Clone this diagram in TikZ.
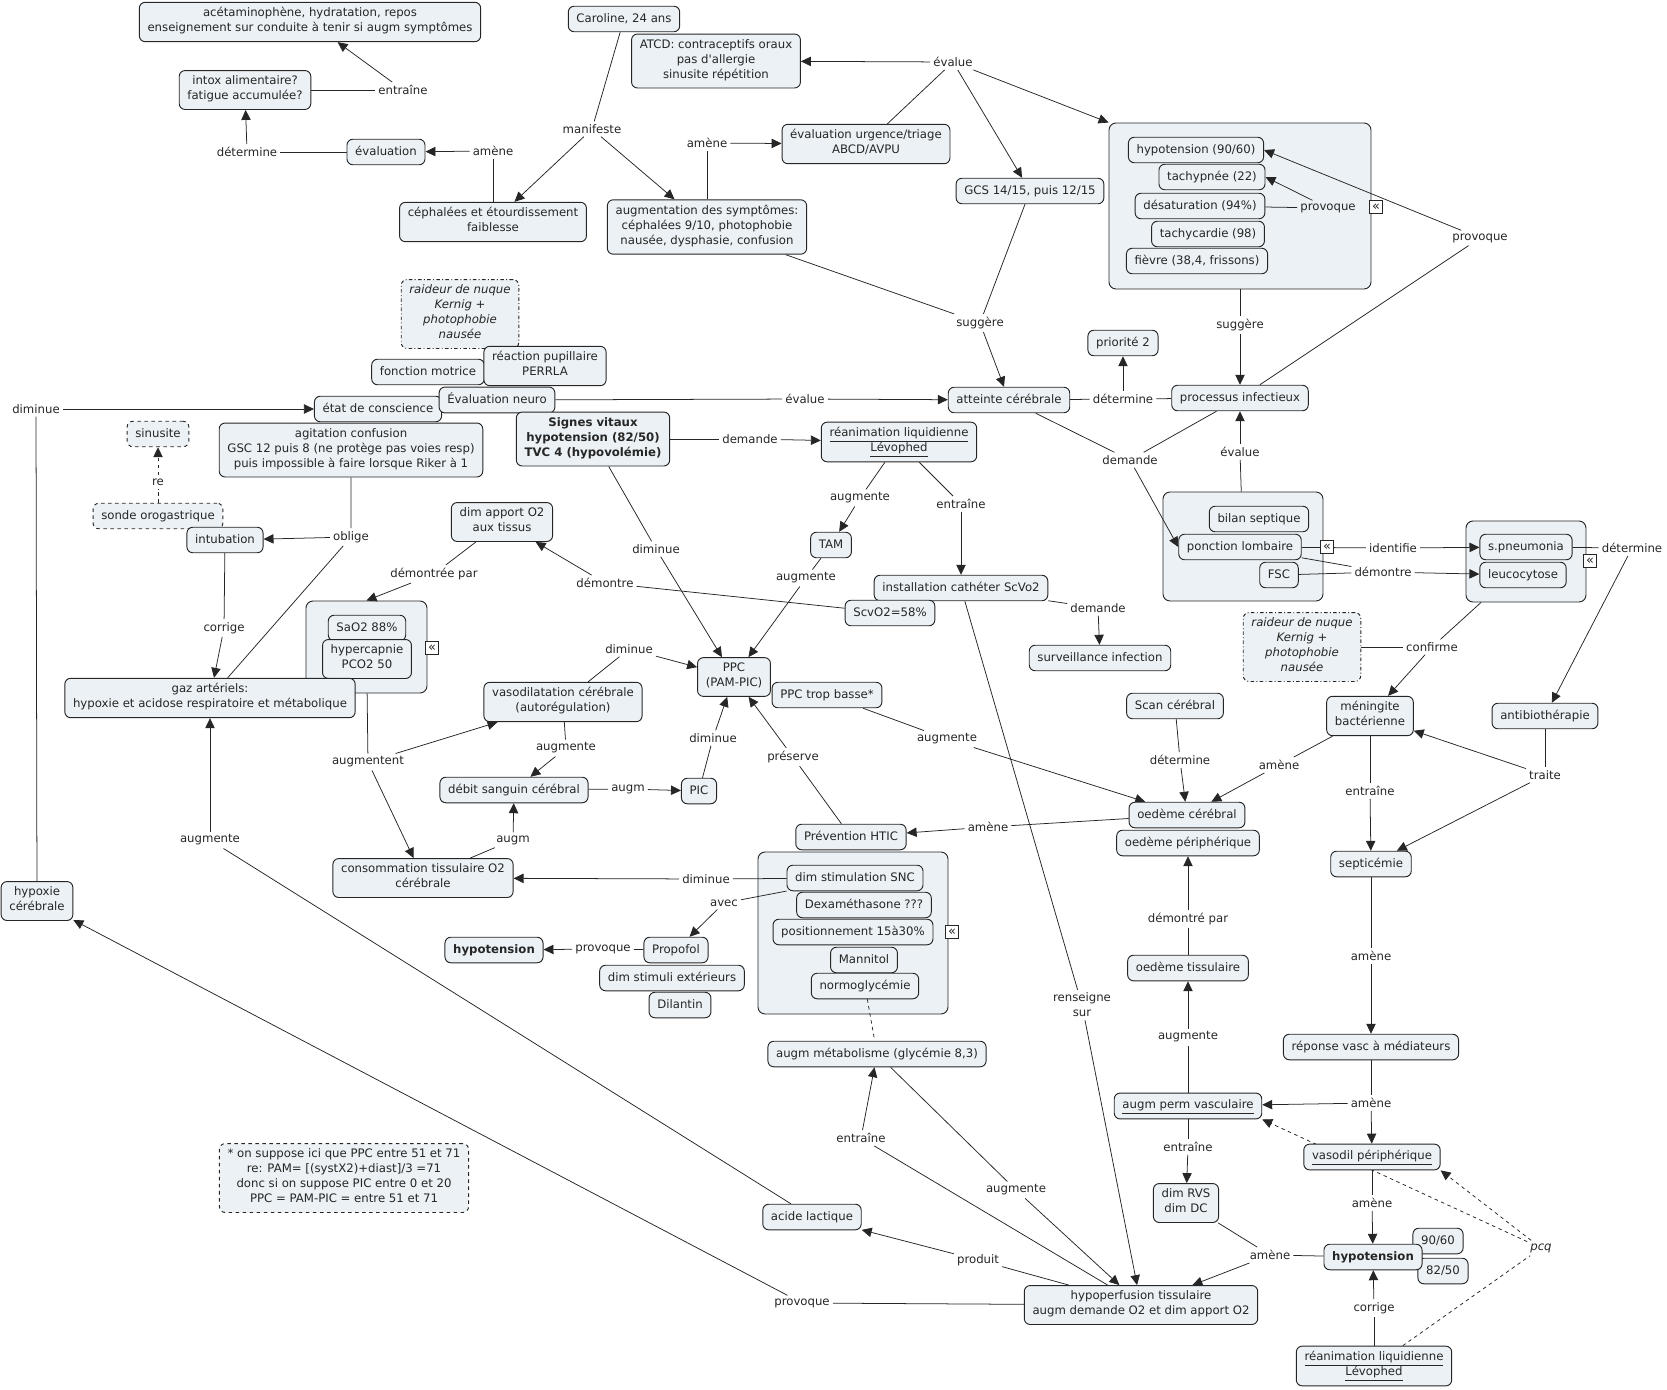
\documentclass[tikz,border=0pt]{standalone}
\usepackage{fontspec}
\setmainfont{DejaVu Sans}
\usetikzlibrary{arrows.meta, fit}
\definecolor{cmfill}{HTML}{EBF1F4}
\definecolor{ink}{HTML}{262626}
\pgfdeclarelayer{edges}
\pgfsetlayers{edges,main}
\newcommand{\mapfont}{\fontsize{10}{12.8}\selectfont}

\begin{document}
\begin{tikzpicture}[x=0.03cm, y=-0.03cm,
  every node/.style={text=ink, font=\mapfont},
  concept/.style={draw=ink, fill=cmfill, rounded corners=5pt, line width=0.8pt,
    align=center, inner xsep=7pt, inner ysep=4.5pt,
    execute at begin node=\strut, execute at end node=\strut},
  bold/.style={font=\mapfont\bfseries},
  dashbox/.style={concept, dashed},
  dotbox/.style={concept, dash dot, font=\mapfont\itshape},
  grp/.style={draw=ink, fill=cmfill, rounded corners=6pt, line width=0.8pt, inner sep=0pt},
  fold/.style={draw=ink, fill=white, line width=0.7pt, inner sep=0pt,
    minimum size=10.5pt, font=\fontsize{11}{11}\selectfont},
  lw/.style={inner sep=2.5pt, align=center},
  link/.style={draw=ink, line width=0.65pt},
  arr/.style={link, -{Triangle[length=8.5pt, width=8pt]}},
]

\path[use as bounding box] (0,0) rectangle (1667,1390);

% Patient and first assessment — top left
\node[concept] (acet) at (310,22) {acétaminophène, hydratation, repos\\enseignement sur conduite à tenir si augm symptômes};
\node[concept] (intox) at (245,90) {intox alimentaire?\\fatigue accumulée?};
\node[concept] (evalu) at (386,152) {évaluation};
\node[concept] (cephal) at (493,222) {céphalées et étourdissement\\faiblesse};
\node[concept] (caroline) at (624,19) {Caroline, 24 ans};
\node[concept] (atcd) at (716,61) {ATCD: contraceptifs oraux\\pas d\textquotesingle allergie\\sinusite répétition};
\node[concept] (augsympt) at (707,227) {augmentation des symptômes:\\céphalées 9/10, photophobie\\nausée, dysphasie, confusion};
\node[concept] (triage) at (866,144) {évaluation urgence/triage\\ABCD/AVPU};
\node[concept] (gcs) at (1030,191) {GCS 14/15, puis 12/15};

% Vital signs group — top right
\node[concept] (hypo90) at (1196,150) {hypotension (90/60)};
\node[concept] (tachyp) at (1212,177) {tachypnée (22)};
\node[concept] (desat) at (1200,206) {désaturation (94\%)};
\node[concept] (tachyc) at (1208,234) {tachycardie (98)};
\node[concept] (fievre) at (1197,261) {fièvre (38,4, frissons)};

% Neuro cluster
\node[dotbox] (raid1) at (460,314) {raideur de nuque\\Kernig +\\photophobie\\nausée};
\node[concept] (fonction) at (428,372) {fonction motrice};
\node[concept] (pupil) at (545,366) {réaction pupillaire\\PERRLA};
\node[concept] (conscience) at (378,409) {état de conscience};
\node[concept] (evneuro) at (497,400) {Évaluation neuro};
\node[concept] (agitation) at (351,450) {agitation confusion\\GSC 12 puis 8 (ne protège pas voies resp)\\puis impossible à faire lorsque Riker à 1};
\node[concept, bold] (signes) at (593,439) {Signes vitaux\\hypotension (82/50)\\TVC 4 (hypovolémie)};

% Working hypotheses
\node[concept] (atteinte) at (1009,400) {atteinte cérébrale};
\node[concept] (priorite) at (1123,343) {priorité 2};
\node[concept] (processus) at (1240,398) {processus infectieux};
\node[concept] (reanim1) at (899,442) {\underline{réanimation liquidienne}\\\underline{Lévophed}};

% Airway and lines
\node[dashbox] (sinusite) at (158,434) {sinusite};
\node[dashbox] (sonde) at (158,516) {sonde orogastrique};
\node[concept] (intub) at (225,540) {intubation};
\node[concept] (dimapport) at (502,522) {dim apport O2\\aux tissus};
\node[concept] (tam) at (831,545) {TAM};
\node[concept] (cathet) at (961,588) {installation cathéter ScVo2};
\node[concept] (scvo2) at (890,613) {ScvO2=58\%};
\node[concept] (surveil) at (1100,658) {surveillance infection};

% Septic work-up
\node[concept] (bilan) at (1259,519) {bilan septique};
\node[concept] (ponction) at (1240,547) {ponction lombaire};
\node[concept] (fsc) at (1279,575) {FSC};
\node[concept] (pneumo) at (1526,547) {s.pneumonia};
\node[concept] (leuco) at (1523,575) {leucocytose};
\node[dotbox] (raid2) at (1302,647) {raideur de nuque\\Kernig +\\photophobie\\nausée};

% Gases and cerebral perfusion
\node[concept] (sao2) at (367,628) {SaO2 88\%};
\node[concept] (hypercap) at (367,659) {hypercapnie\\PCO2 50};
\node[concept] (gaz) at (210,698) {gaz artériels:\\hypoxie et acidose respiratoire et métabolique};
\node[concept] (ppc) at (734,677) {PPC\\(PAM-PIC)};
\node[concept] (ppcbasse) at (827,695) {PPC trop basse*};
\node[concept] (vasodil) at (563,702) {vasodilatation cérébrale\\(autorégulation)};
\node[concept] (debit) at (514,790) {débit sanguin cérébral};
\node[concept] (pic) at (699,791) {PIC};
\node[concept] (conso) at (423,878) {consommation tissulaire O2\\cérébrale};
\node[concept] (scan) at (1175,706) {Scan cérébral};
\node[concept] (oedcer) at (1187,815) {oedème cérébral};
\node[concept] (oedper) at (1188,843) {oedème périphérique};
\node[concept] (mening) at (1370,716) {méningite\\bactérienne};
\node[concept] (antibio) at (1545,716) {antibiothérapie};
\node[concept] (septic) at (1371,864) {septicémie};

% HTIC prevention group
\node[concept] (prevhtic) at (851,837) {Prévention HTIC};
\node[concept] (dimstim) at (855,878) {dim stimulation SNC};
\node[concept] (dexa) at (864,905) {Dexaméthasone ???};
\node[concept] (position) at (853,932) {positionnement 15à30\%};
\node[concept] (mannitol) at (864,960) {Mannitol};
\node[concept] (normogly) at (865,986) {normoglycémie};
\node[concept] (hypoxie) at (37,901) {hypoxie\\cérébrale};
\node[concept, bold] (hypoL) at (494,950) {hypotension};
\node[concept] (propofol) at (676,950) {Propofol};
\node[concept] (stimext) at (672,978) {dim stimuli extérieurs};
\node[concept] (dilantin) at (680,1005) {Dilantin};

% Bottom: perfusion and shock
\node[concept] (oedtis) at (1188,968) {oedème tissulaire};
\node[concept] (metab) at (877,1054) {augm métabolisme (glycémie 8,3)};
\node[concept] (reponse) at (1371,1047) {réponse vasc à médiateurs};
\node[concept] (permvasc) at (1188,1106) {\underline{augm perm vasculaire}};
\node[concept] (vasoper) at (1372,1157) {\underline{vasodil périphérique}};
\node[concept] (dimrvs) at (1186,1203) {dim RVS\\dim DC};
\node[dashbox] (note) at (344,1178) {* on suppose ici que PPC entre 51 et 71\\re: PAM= [(systX2)+diast]/3 =71\\donc si on suppose PIC entre 0 et 20\\PPC = PAM-PIC = entre 51 et 71};
\node[concept] (acide) at (812,1217) {acide lactique};
\node[concept] (p9060) at (1438,1241) {90/60};
\node[concept] (p8250) at (1443,1271) {82/50};
\node[concept, bold] (hypoR) at (1373,1257) {hypotension};
\node[concept] (hypoperf) at (1141,1305) {hypoperfusion tissulaire\\augm demande O2 et dim apport O2};
\node[concept] (reanim2) at (1374,1366) {\underline{réanimation liquidienne}\\\underline{Lévophed}};

% Fold markers
\node[fold] (fold1) at (1376,207) {«};
\node[fold] (fold2) at (432,648) {«};
\node[fold] (fold3) at (952,932) {«};
\node[fold] (fold4) at (1327,547) {«};
\node[fold] (fold5) at (1590,561) {«};

% Linking words
\node[lw] (lentr1) at (403,90) {entraîne};
\node[lw] (ldet1) at (247,152) {détermine};
\node[lw] (lamen1) at (493,151) {amène};
\node[lw] (lmanif) at (592,129) {manifeste};
\node[lw] (lamen2) at (707,143) {amène};
\node[lw] (leval1) at (953,62) {évalue};
\node[lw] (lsugg1) at (980,323) {suggère};
\node[lw] (lsugg2) at (1240,325) {suggère};
\node[lw] (lprov1) at (1328,208) {provoque};
\node[lw] (lprov2) at (1480,238) {provoque};
\node[lw] (ldet2) at (1123,399) {détermine};
\node[lw] (ldem1) at (1130,460) {demande};
\node[lw] (leval3) at (1240,452) {évalue};
\node[lw] (leval2) at (805,399) {évalue};
\node[lw] (ldem2) at (750,439) {demande};
\node[lw] (ldim1) at (36,409) {diminue};
\node[lw] (lre) at (158,482) {re};
\node[lw] (loblig) at (351,537) {oblige};
\node[lw] (lcorr1) at (224,628) {corrige};
\node[lw] (ldemp1) at (434,574) {démontrée par};
\node[lw] (ldemo1) at (605,583) {démontre};
\node[lw] (ldim2) at (656,549) {diminue};
\node[lw] (laug1) at (860,498) {augmente};
\node[lw] (lentr2) at (961,504) {entraîne};
\node[lw] (laug2) at (806,578) {augmente};
\node[lw] (ldem3) at (1098,608) {demande};
\node[lw] (lrens) at (1082,1005) {renseigne\\sur};
\node[lw] (laugt) at (368,762) {augmentent};
\node[lw] (laug3) at (210,840) {augmente};
\node[lw] (ldim3) at (629,649) {diminue};
\node[lw] (laug4) at (566,748) {augmente};
\node[lw] (laugm1) at (628,789) {augm};
\node[lw] (ldim4) at (713,738) {diminue};
\node[lw] (lpres) at (793,757) {préserve};
\node[lw] (laugm2) at (513,840) {augm};
\node[lw] (ldim5) at (706,879) {diminue};
\node[lw] (lavec) at (724,903) {avec};
\node[lw] (lprov3) at (603,949) {provoque};
\node[lw] (laug5) at (947,739) {augmente};
\node[lw] (ldet3) at (1180,760) {détermine};
\node[lw] (lamen3) at (988,827) {amène};
\node[lw] (lamen4) at (1279,765) {amène};
\node[lw] (ldemp2) at (1188,919) {démontré par};
\node[lw] (lident) at (1393,548) {identifie};
\node[lw] (ldemo2) at (1383,572) {démontre};
\node[lw] (ldet4) at (1632,548) {détermine};
\node[lw] (lconf) at (1432,647) {confirme};
\node[lw] (ltrai) at (1545,775) {traite};
\node[lw] (lentr3) at (1370,791) {entraîne};
\node[lw] (lamen5) at (1371,956) {amène};
\node[lw] (lamen6) at (1371,1103) {amène};
\node[lw] (lamen7) at (1372,1203) {amène};
\node[lw] (lamen8) at (1270,1255) {amène};
\node[lw] (lcorr2) at (1374,1308) {corrige};
\node[lw, font=\mapfont\itshape] (lpcq) at (1541,1248) {pcq};
\node[lw] (laug6) at (1188,1037) {augmente};
\node[lw] (lentr4) at (1188,1147) {entraîne};
\node[lw] (lentr5) at (861,1138) {entraîne};
\node[lw] (laug7) at (1016,1190) {augmente};
\node[lw] (lprod) at (978,1260) {produit};
\node[lw] (lprov4) at (802,1303) {provoque};

\begin{pgfonlayer}{edges}
% Group frames
\node[grp, fit={(1109,123) (1371,289)}] (vitgrp) {};
\node[grp, fit={(306,601) (427,693)}] (sao2grp) {};
\node[grp, fit={(1163,492) (1323,601)}] (sepgrp) {};
\node[grp, fit={(1466,521) (1586,602)}] (patgrp) {};
\node[grp, fit={(758,852) (948,1014)}] (prevgrp) {};

% Connectors
\draw[link] (intox) -- (lentr1); \draw[arr] (lentr1) -- (acet);
\draw[link] (evalu) -- (ldet1); \draw[arr] (ldet1) -- (intox);
\draw[link] (cephal) -- (lamen1); \draw[arr] (lamen1) -- (evalu);
\draw[link] (caroline) -- (lmanif);
\draw[arr] (lmanif) -- (cephal); \draw[arr] (lmanif) -- (augsympt);
\draw[link] (augsympt) -- (lamen2); \draw[arr] (lamen2) -- (triage);
\draw[link] (triage) -- (leval1);
\draw[arr] (leval1) -- (atcd); \draw[arr] (leval1) -- (gcs); \draw[arr] (leval1) -- (vitgrp.north west);
\draw[link] (augsympt) -- (lsugg1); \draw[link] (gcs) -- (lsugg1); \draw[arr] (lsugg1) -- (atteinte);
\draw[link] (vitgrp) -- (lsugg2); \draw[arr] (lsugg2) -- (processus);
\draw[link] (desat) -- (lprov1); \draw[arr] (lprov1) -- (tachyp.east);
\draw[link] (processus) -- (lprov2); \draw[arr] (lprov2) -- (hypo90.east);
\draw[link] (atteinte) -- (ldet2) -- (processus); \draw[arr] (ldet2) -- (priorite);
\draw[link] (atteinte) -- (ldem1) -- (processus); \draw[arr] (ldem1) -- (ponction.west);
\draw[link] (sepgrp) -- (leval3); \draw[arr] (leval3) -- (processus);
\draw[link] (evneuro) -- (leval2); \draw[arr] (leval2) -- (atteinte);
\draw[link] (signes) -- (ldem2); \draw[arr] (ldem2) -- (reanim1);
\draw[link] (hypoxie) -- (ldim1); \draw[arr] (ldim1) -- (conscience);
\draw[link, dashed] (sonde) -- (lre); \draw[arr, dashed] (lre) -- (sinusite);
\draw[link] (agitation) -- (loblig) -- (gaz); \draw[arr] (loblig) -- (intub);
\draw[link] (intub) -- (lcorr1); \draw[arr] (lcorr1) -- (gaz);
\draw[link] (dimapport) -- (ldemp1); \draw[arr] (ldemp1) -- (sao2grp.north);
\draw[link] (scvo2) -- (ldemo1); \draw[arr] (ldemo1) -- (dimapport);
\draw[link] (signes) -- (ldim2); \draw[arr] (ldim2) -- (ppc);
\draw[link] (reanim1) -- (laug1); \draw[arr] (laug1) -- (tam);
\draw[link] (reanim1) -- (lentr2); \draw[arr] (lentr2) -- (cathet);
\draw[link] (tam) -- (laug2); \draw[arr] (laug2) -- (ppc);
\draw[link] (cathet) -- (ldem3); \draw[arr] (ldem3) -- (surveil);
\draw[link] (cathet) -- (lrens); \draw[arr] (lrens) -- (hypoperf);
\draw[link] (sao2grp) -- (laugt); \draw[arr] (laugt) -- (conso); \draw[arr] (laugt) -- (vasodil);
\draw[link] (acide) -- (laug3); \draw[arr] (laug3) -- (gaz);
\draw[link] (vasodil) -- (ldim3); \draw[arr] (ldim3) -- (ppc);
\draw[link] (vasodil) -- (laug4); \draw[arr] (laug4) -- (debit);
\draw[link] (debit) -- (laugm1); \draw[arr] (laugm1) -- (pic);
\draw[link] (pic) -- (ldim4); \draw[arr] (ldim4) -- (ppc);
\draw[link] (prevhtic) -- (lpres); \draw[arr] (lpres) -- (ppc);
\draw[link] (conso) -- (laugm2); \draw[arr] (laugm2) -- (debit);
\draw[link] (dimstim) -- (ldim5); \draw[arr] (ldim5) -- (conso);
\draw[link] (dimstim) -- (lavec); \draw[arr] (lavec) -- (propofol);
\draw[link] (propofol) -- (lprov3); \draw[arr] (lprov3) -- (hypoL);
\draw[link] (ppcbasse) -- (laug5); \draw[arr] (laug5) -- (oedcer);
\draw[link] (scan) -- (ldet3); \draw[arr] (ldet3) -- (oedcer);
\draw[link] (oedcer) -- (lamen3); \draw[arr] (lamen3) -- (prevhtic);
\draw[link] (mening) -- (lamen4); \draw[arr] (lamen4) -- (oedcer);
\draw[link] (oedtis) -- (ldemp2); \draw[arr] (ldemp2) -- (oedper);
\draw[link] (ponction) -- (lident); \draw[arr] (lident) -- (pneumo);
\draw[link] (ponction) -- (ldemo2); \draw[link] (fsc) -- (ldemo2); \draw[arr] (ldemo2) -- (leuco);
\draw[link] (pneumo) -- (ldet4); \draw[arr] (ldet4) -- (antibio);
\draw[link] (raid2) -- (lconf); \draw[link] (patgrp) -- (lconf); \draw[arr] (lconf) -- (mening);
\draw[link] (antibio) -- (ltrai); \draw[arr] (ltrai) -- (mening); \draw[arr] (ltrai) -- (septic);
\draw[link] (mening) -- (lentr3); \draw[arr] (lentr3) -- (septic);
\draw[link] (septic) -- (lamen5); \draw[arr] (lamen5) -- (reponse);
\draw[link] (reponse) -- (lamen6); \draw[arr] (lamen6) -- (permvasc); \draw[arr] (lamen6) -- (vasoper);
\draw[link] (vasoper) -- (lamen7); \draw[arr] (lamen7) -- (hypoR);
\draw[link] (dimrvs) -- (lamen8) -- (hypoR); \draw[arr] (lamen8) -- (hypoperf);
\draw[link] (reanim2) -- (lcorr2); \draw[arr] (lcorr2) -- (hypoR);
\draw[link, dashed] (reanim2) -- (lpcq);
\draw[arr, dashed] (lpcq) -- (vasoper.south east); \draw[arr, dashed] (lpcq) -- (permvasc.south east);
\draw[link] (permvasc) -- (laug6); \draw[arr] (laug6) -- (oedtis);
\draw[link] (permvasc) -- (lentr4); \draw[arr] (lentr4) -- (dimrvs);
\draw[link] (hypoperf) -- (lentr5); \draw[arr] (lentr5) -- (metab);
\draw[link] (metab) -- (laug7); \draw[arr] (laug7) -- (hypoperf);
\draw[link] (hypoperf) -- (lprod); \draw[arr] (lprod) -- (acide);
\draw[link] (hypoperf) -- (lprov4); \draw[arr] (lprov4) -- (hypoxie);
\draw[link, dashed] (normogly) -- (metab);
\end{pgfonlayer}

\end{tikzpicture}
\end{document}
